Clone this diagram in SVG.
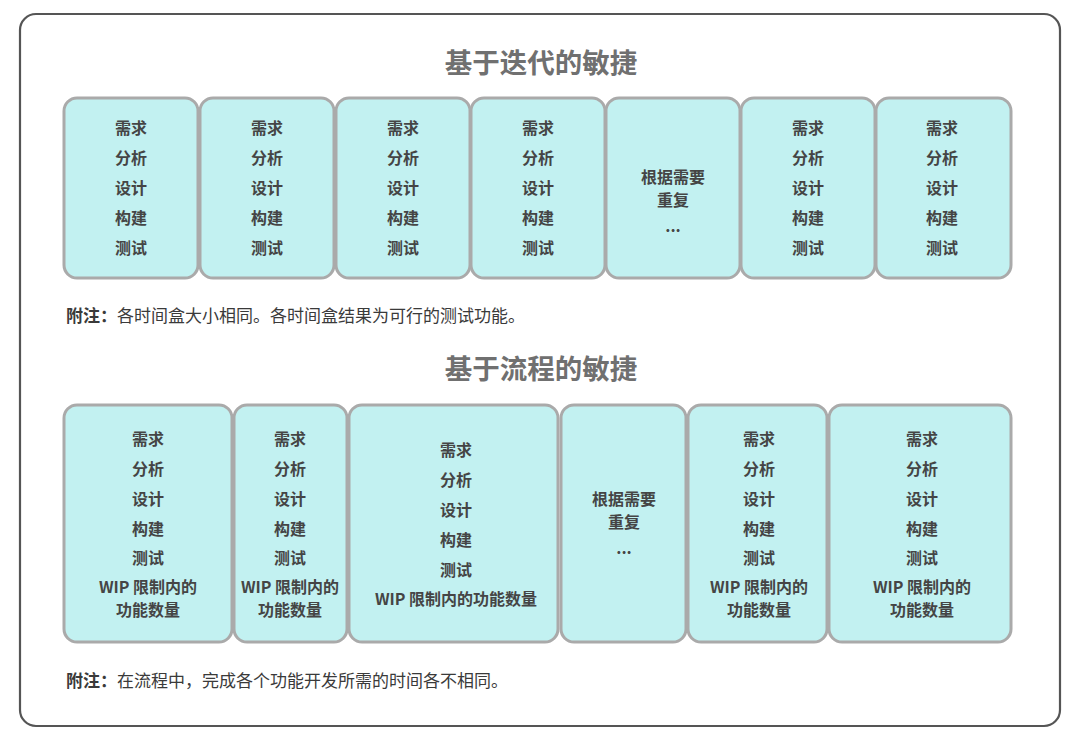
<svg xmlns="http://www.w3.org/2000/svg" width="1080" height="745" viewBox="0 0 1080 745">
<style>
text{font-family:"Noto Sans CJK SC","Noto Sans",sans-serif;}
.frame{fill:#fff;stroke:#555;stroke-width:2.2;}
.box{fill:#c2f1f1;stroke:#aaaaaa;stroke-width:3;}
.t{font-size:16px;font-weight:700;fill:#454545;text-anchor:middle;dominant-baseline:central;}
.title{font-size:27.5px;font-weight:700;fill:#707070;text-anchor:middle;dominant-baseline:central;}
.note{font-size:17px;fill:#3a3a3a;dominant-baseline:central;}
.nb{font-weight:700;}
</style>
<rect class="frame" x="20" y="14" width="1040" height="712" rx="16"/>
<text class="title" x="541" y="61">基于迭代的敏捷</text>
<g id="iter1"><rect class="box" x="64" y="98" width="134" height="180" rx="13"/>
<text class="t" x="131" y="127">需求</text><text class="t" x="131" y="157">分析</text><text class="t" x="131" y="187">设计</text><text class="t" x="131" y="217">构建</text><text class="t" x="131" y="247">测试</text></g>
<g id="iter2"><rect class="box" x="200" y="98" width="134" height="180" rx="13"/>
<text class="t" x="267" y="127">需求</text><text class="t" x="267" y="157">分析</text><text class="t" x="267" y="187">设计</text><text class="t" x="267" y="217">构建</text><text class="t" x="267" y="247">测试</text></g>
<g id="iter3"><rect class="box" x="336" y="98" width="134" height="180" rx="13"/>
<text class="t" x="403" y="127">需求</text><text class="t" x="403" y="157">分析</text><text class="t" x="403" y="187">设计</text><text class="t" x="403" y="217">构建</text><text class="t" x="403" y="247">测试</text></g>
<g id="iter4"><rect class="box" x="471" y="98" width="134" height="180" rx="13"/>
<text class="t" x="538" y="127">需求</text><text class="t" x="538" y="157">分析</text><text class="t" x="538" y="187">设计</text><text class="t" x="538" y="217">构建</text><text class="t" x="538" y="247">测试</text></g>
<g id="iter5"><rect class="box" x="606" y="98" width="134" height="180" rx="13"/>
<text class="t" x="673" y="176">根据需要</text><text class="t" x="673" y="199">重复</text><text class="t" x="673" y="225">...</text></g>
<g id="iter6"><rect class="box" x="741" y="98" width="134" height="180" rx="13"/>
<text class="t" x="808" y="127">需求</text><text class="t" x="808" y="157">分析</text><text class="t" x="808" y="187">设计</text><text class="t" x="808" y="217">构建</text><text class="t" x="808" y="247">测试</text></g>
<g id="iter7"><rect class="box" x="876" y="98" width="135" height="180" rx="13"/>
<text class="t" x="942" y="127">需求</text><text class="t" x="942" y="157">分析</text><text class="t" x="942" y="187">设计</text><text class="t" x="942" y="217">构建</text><text class="t" x="942" y="247">测试</text></g>
<text class="note" x="66" y="314"><tspan class="nb">附注：</tspan>各时间盒大小相同。各时间盒结果为可行的测试功能。</text>
<text class="title" x="541" y="367">基于流程的敏捷</text>
<g id="flow1"><rect class="box" x="64" y="405" width="168" height="237" rx="13"/>
<text class="t" x="148" y="438">需求</text><text class="t" x="148" y="468">分析</text><text class="t" x="148" y="498">设计</text><text class="t" x="148" y="528">构建</text><text class="t" x="148" y="557">测试</text><text class="t" x="148" y="586">WIP 限制内的</text><text class="t" x="148" y="609">功能数量</text></g>
<g id="flow2"><rect class="box" x="234" y="405" width="113" height="237" rx="13"/>
<text class="t" x="290" y="438">需求</text><text class="t" x="290" y="468">分析</text><text class="t" x="290" y="498">设计</text><text class="t" x="290" y="528">构建</text><text class="t" x="290" y="557">测试</text><text class="t" x="290" y="586">WIP 限制内的</text><text class="t" x="290" y="609">功能数量</text></g>
<g id="flow3"><rect class="box" x="349" y="405" width="209" height="237" rx="13"/>
<text class="t" x="456" y="449">需求</text><text class="t" x="456" y="479">分析</text><text class="t" x="456" y="509">设计</text><text class="t" x="456" y="539">构建</text><text class="t" x="456" y="569">测试</text><text class="t" x="456" y="598">WIP 限制内的功能数量</text></g>
<g id="flow4"><rect class="box" x="561" y="405" width="125" height="237" rx="13"/>
<text class="t" x="624" y="498">根据需要</text><text class="t" x="624" y="521">重复</text><text class="t" x="624" y="547">...</text></g>
<g id="flow5"><rect class="box" x="688" y="405" width="139" height="237" rx="13"/>
<text class="t" x="759" y="438">需求</text><text class="t" x="759" y="468">分析</text><text class="t" x="759" y="498">设计</text><text class="t" x="759" y="528">构建</text><text class="t" x="759" y="557">测试</text><text class="t" x="759" y="586">WIP 限制内的</text><text class="t" x="759" y="609">功能数量</text></g>
<g id="flow6"><rect class="box" x="829" y="405" width="182" height="237" rx="13"/>
<text class="t" x="922" y="438">需求</text><text class="t" x="922" y="468">分析</text><text class="t" x="922" y="498">设计</text><text class="t" x="922" y="528">构建</text><text class="t" x="922" y="557">测试</text><text class="t" x="922" y="586">WIP 限制内的</text><text class="t" x="922" y="609">功能数量</text></g>
<text class="note" x="66" y="679"><tspan class="nb">附注：</tspan>在流程中，完成各个功能开发所需的时间各不相同。</text>
<g id="connectors"/>
</svg>
